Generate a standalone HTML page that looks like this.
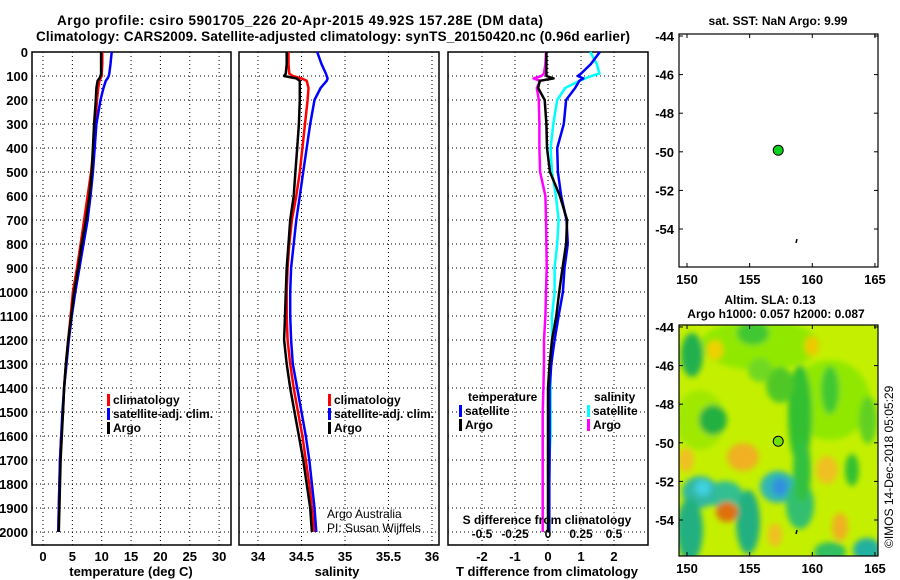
<!DOCTYPE html>
<html><head><meta charset="utf-8">
<style>
html,body{margin:0;padding:0;background:#fff;}
svg{display:block;font-family:"Liberation Sans",Arial,sans-serif;font-weight:bold;}
</style></head>
<body>
<svg id="c" width="900" height="580" viewBox="0 0 900 580">
<defs>
<filter id="bl" x="-50%" y="-50%" width="200%" height="200%"><feGaussianBlur stdDeviation="3"/></filter>
<clipPath id="mapclip"><rect x="679" y="325" width="199" height="231"/></clipPath>
</defs>
<text x="300" y="25" text-anchor="middle" font-size="13.5" textLength="486">Argo profile: csiro 5901705_226 20-Apr-2015 49.92S 157.28E (DM data)</text>
<text x="333" y="41" text-anchor="middle" font-size="13.5" textLength="594">Climatology: CARS2009. Satellite-adjusted climatology: synTS_20150420.nc (0.96d earlier)</text>
<g id="g1"></g>
<g id="g2"></g>
<g id="g3"></g>
<g id="g4"></g>
<g id="g5"></g>
<text transform="translate(893,548) rotate(-90)" font-size="12" font-weight="normal">©IMOS 14-Dec-2018 05:05:29</text>
</svg>
<script>
// ---- data ----
const depths = [0,50,90,100,110,120,150,200,300,400,500,600,700,800,900,1000,1100,1200,1300,1400,1500,1600,1700,1800,1900,2000];
const tempArgo = [9.9,9.9,9.9,9.8,9.6,9.3,9.1,9.0,8.7,8.5,8.3,7.9,7.3,6.6,6.0,5.3,4.8,4.3,3.9,3.6,3.4,3.2,3.0,2.9,2.8,2.7];
const tempClim = [10.1,10.1,10.0,10.0,9.8,9.6,9.4,9.2,8.9,8.6,8.2,7.6,7.0,6.4,5.8,5.1,4.7,4.3,3.9,3.6,3.4,3.1,2.9,2.8,2.7,2.6];
const tempSat = [11.7,11.5,11.3,11.2,11.0,10.7,10.3,9.8,9.1,8.8,8.5,8.1,7.6,6.9,6.2,5.5,4.9,4.4,4.0,3.6,3.3,3.1,2.9,2.8,2.7,2.6];
const salArgo = [34.33,34.33,34.32,34.3,34.44,34.48,34.48,34.48,34.47,34.45,34.43,34.41,34.37,34.35,34.33,34.32,34.31,34.30,34.33,34.37,34.42,34.47,34.52,34.56,34.60,34.62];
const salClim = [34.35,34.35,34.36,34.40,34.50,34.56,34.58,34.57,34.54,34.51,34.48,34.44,34.39,34.36,34.34,34.33,34.33,34.34,34.37,34.41,34.46,34.51,34.55,34.59,34.62,34.65];
const salSat = [34.68,34.73,34.78,34.79,34.80,34.79,34.72,34.65,34.60,34.56,34.52,34.48,34.44,34.41,34.38,34.37,34.37,34.38,34.40,34.45,34.50,34.55,34.59,34.62,34.65,34.67];
const dTSat = [1.57,1.3,1.0,0.9,1.07,0.95,0.82,0.55,0.48,0.28,0.30,0.40,0.56,0.60,0.50,0.45,0.32,0.20,0.10,0.05,0.05,0.05,0.05,0.04,0.04,0.04];
const dTArgo = [-0.05,-0.05,-0.05,-0.05,0.17,-0.25,-0.3,-0.1,-0.05,-0.03,0.06,0.36,0.58,0.55,0.44,0.34,0.25,0.12,0.05,0.0,0.0,0.0,0.0,0.0,0.0,0.0];
const dSSat = [0.32,0.37,0.39,0.33,0.28,0.24,0.13,0.07,0.04,0.02,0.03,0.06,0.08,0.07,0.05,0.05,0.03,0.03,0.02,0.02,0.02,0.02,0.01,0.01,0.01,0.01];
const dSArgo = [-0.015,-0.02,-0.03,-0.05,-0.11,-0.06,-0.085,-0.07,-0.065,-0.065,-0.06,-0.02,-0.015,-0.012,-0.01,-0.015,-0.02,-0.03,-0.03,-0.035,-0.04,-0.04,-0.04,-0.04,-0.04,-0.04];
const depthTicks = [0,100,200,300,400,500,600,700,800,900,1000,1100,1200,1300,1400,1500,1600,1700,1800,1900,2000];
const tTicks = [0,5,10,15,20,25,30];
const sTicks = [34,34.5,35,35.5,36];
const sTickLabels = ["34","34.5","35","35.5","36"];
const dtTicks = [-2,-1,0,1,2];
const dsTicks = [-0.5,-0.25,0,0.25,0.5];
const dsTickLabels = ["-0.5","-0.25","0","0.25","0.5"];
const latTicks = [-44,-46,-48,-50,-52,-54];
const lonTicks = [150,155,160,165];
const floatLon = 157.28, floatLat = -49.92;

const NS="http://www.w3.org/2000/svg";
function mk(parent,tag,attrs,txt){const e=document.createElementNS(NS,tag);for(const k in attrs)e.setAttribute(k,attrs[k]);if(txt!==undefined)e.textContent=txt;parent.appendChild(e);return e;}
const Y0=52, PX=0.24, YB=545;
const yD = d => Y0 + d*PX;

function panel(g,x0,x1,xs,ticks,labels,name){
  for(const d of depthTicks){
    const l=mk(g,'line',{x1:x0,x2:x1,y1:yD(d),y2:yD(d),stroke:'#000','stroke-width':1,'stroke-dasharray':'1 3'});
    
    
  }
  ticks.forEach((t,i)=>{
    const x=xs(t);
    const l=mk(g,'line',{x1:x,x2:x,y1:Y0,y2:YB,stroke:'#000','stroke-width':1,'stroke-dasharray':'1 3'});
    
    
    if(labels){
      const tx=mk(g,'text',{x:x,y:561,'text-anchor':'middle','font-size':13},labels[i]);
      
      
    }
  });
  const r=mk(g,'rect',{x:x0,y:Y0,width:x1-x0,height:YB-Y0,fill:'none',stroke:'#000','stroke-width':1.5});
  
  
}
function line(g,xs,vals,color,name,w){
  const pts=vals.map((v,i)=>xs(v).toFixed(1)+','+yD(depths[i]).toFixed(1)).join(' ');
  const p=mk(g,'polyline',{points:pts,fill:'none',stroke:color,'stroke-width':w||2.5,'stroke-linejoin':'round'});
  
  
}
function legend(g,x,y,items){
  items.forEach((it,i)=>{
    const m=mk(g,'rect',{x:x,y:y+i*14-10,width:3,height:12,fill:it[1]});
    
    
    const t=mk(g,'text',{x:x+6,y:y+i*14,'font-size':12},it[0]);
    
    
  });
}
const g1=document.getElementById('g1');
const xT=v=>43+v*5.87;
panel(g1,32,231,xT,tTicks,tTicks.map(String),'temperature');
depthTicks.forEach(d=>{const t=mk(g1,'text',{x:28,y:yD(d)+5,'text-anchor':'end','font-size':13},String(d));

});
line(g1,xT,tempClim,'#f00','temp-climatology-line');
line(g1,xT,tempSat,'#00f','temp-satellite-line');
line(g1,xT,tempArgo,'#000','temp-argo-line');
legend(g1,107,404,[['climatology','#f00'],['satellite-adj. clim.','#00f'],['Argo','#000']]);
const xl1=mk(g1,'text',{x:131,y:576,'text-anchor':'middle','font-size':13},'temperature (deg C)');


const g2=document.getElementById('g2');
const xS=v=>258+(v-34)*87;
panel(g2,239,439,xS,sTicks,sTickLabels,'salinity');
line(g2,xS,salClim,'#f00','sal-climatology-line');
line(g2,xS,salSat,'#00f','sal-satellite-line');
line(g2,xS,salArgo,'#000','sal-argo-line');
legend(g2,328,404,[['climatology','#f00'],['satellite-adj. clim.','#00f'],['Argo','#000']]);
const cr1=mk(g2,'text',{x:327,y:518,'font-size':12,'font-weight':'normal'},'Argo Australia');


const cr2=mk(g2,'text',{x:327,y:532,'font-size':12,'font-weight':'normal'},'PI: Susan Wijffels');


const xl2=mk(g2,'text',{x:337,y:576,'text-anchor':'middle','font-size':13},'salinity');


const g3=document.getElementById('g3');
const xDT=v=>548+v*33;
const xDS=v=>548+v*132;
panel(g3,448,648,xDT,dtTicks,dtTicks.map(String),'difference');
line(g3,xDS,dSArgo,'#f0f','sal-diff-argo-line');
line(g3,xDS,dSSat,'#0ff','sal-diff-satellite-line');
line(g3,xDT,dTSat,'#00f','temp-diff-satellite-line');
line(g3,xDT,dTArgo,'#000','temp-diff-argo-line');
const lt=mk(g3,'text',{x:468,y:401,'font-size':12},'temperature');


legend(g3,459,415,[['satellite','#00f'],['Argo','#000']]);
const ls=mk(g3,'text',{x:594,y:401,'font-size':12},'salinity');


legend(g3,587,415,[['satellite','#0ff'],['Argo','#f0f']]);
const st=mk(g3,'text',{x:547,y:524,'text-anchor':'middle','font-size':12},'S difference from climatology');


dsTicks.forEach((t,i)=>{const tx=mk(g3,'text',{x:xDS(t),y:538,'text-anchor':'middle','font-size':12},dsTickLabels[i]);

});
const xl3=mk(g3,'text',{x:547,y:576,'text-anchor':'middle','font-size':13},'T difference from climatology');



function mapAxes(g,top,bottom,name){
  const lx=v=>687+(v-150)*12.53;
  const ly=v=>top+2+(-44-v)*19.3;
  latTicks.forEach(v=>{
    const t=mk(g,'text',{x:674,y:ly(v)+5,'text-anchor':'end','font-size':13},String(v));
    
    
    mk(g,'line',{x1:679,x2:683,y1:ly(v),y2:ly(v),stroke:'#000'});
    mk(g,'line',{x1:874,x2:878,y1:ly(v),y2:ly(v),stroke:'#000'});
  });
  lonTicks.forEach(v=>{
    const t=mk(g,'text',{x:lx(v),y:bottom+17,'text-anchor':'middle','font-size':13},String(v));
    
    
    mk(g,'line',{x1:lx(v),x2:lx(v),y1:top,y2:top+4,stroke:'#000'});
    mk(g,'line',{x1:lx(v),x2:lx(v),y1:bottom-4,y2:bottom,stroke:'#000'});
  });
  const r=mk(g,'rect',{x:679,y:top,width:199,height:bottom-top,fill:'none',stroke:'#000','stroke-width':1.2});
  
  
  const d=mk(g,'circle',{cx:lx(floatLon),cy:ly(floatLat),r:5,fill:name==='sst-map'?'#10d020':'#70e000',stroke:'#000','stroke-width':1});
  
  
  mk(g,'line',{x1:797,x2:796,y1:top+205,y2:top+209,stroke:'#000','stroke-width':1.5});
}
const g4=document.getElementById('g4');
const t4=mk(g4,'text',{x:778,y:25,'text-anchor':'middle','font-size':12},'sat. SST: NaN Argo: 9.99');


mapAxes(g4,34,267,'sst-map');

const g5=document.getElementById('g5');
const t5a=mk(g5,'text',{x:770,y:304,'text-anchor':'middle','font-size':12},'Altim. SLA: 0.13');


const t5b=mk(g5,'text',{x:776,y:318,'text-anchor':'middle','font-size':12},'Argo h1000: 0.057 h2000: 0.087');


const hm=mk(g5,'g',{'clip-path':'url(#mapclip)'});


mk(hm,'rect',{x:679,y:325,width:199,height:231,fill:'#c4f000'});
const bl=mk(hm,'g',{filter:'url(#bl)'});
const blobs=[
 [760,345,60,25,'#90e800'],[830,400,40,40,'#90e800'],[700,420,25,30,'#a0e800'],
 [692,355,11,22,'#20b050'],[713,420,14,15,'#20b040'],[753,333,16,12,'#40c830'],[800,415,12,50,'#30c030'],
 [780,385,14,18,'#50c828'],[830,390,9,24,'#40c830'],[760,370,12,12,'#70d820'],[852,470,7,16,'#30c030'],[868,420,9,24,'#60d020'],
 [715,350,8,10,'#f0d000'],[812,346,7,10,'#f0c800'],
 [743,457,16,14,'#f0b020'],[686,460,8,12,'#f0c020'],[827,470,11,14,'#f0c020'],[840,527,8,14,'#f0b020'],[775,535,7,12,'#f0c020'],
 [725,495,18,14,'#30c090'],[700,492,18,16,'#30b8a0'],[690,530,13,32,'#20b080'],[748,522,12,32,'#20b080'],
 [778,487,18,16,'#30b8b0'],[800,505,14,24,'#30c070'],[727,512,11,10,'#e07010'],[867,550,14,12,'#20b0a0'],[830,552,16,10,'#30c060'],
 [703,488,8,8,'#40d0e0'],[780,487,8,9,'#3090e0'],[802,470,9,32,'#30c040']
];
blobs.forEach(b=>{mk(bl,'ellipse',{cx:b[0],cy:b[1],rx:b[2],ry:b[3],fill:b[4]});});
mapAxes(g5,325,556,'sla-map');
</script>
</body></html>
